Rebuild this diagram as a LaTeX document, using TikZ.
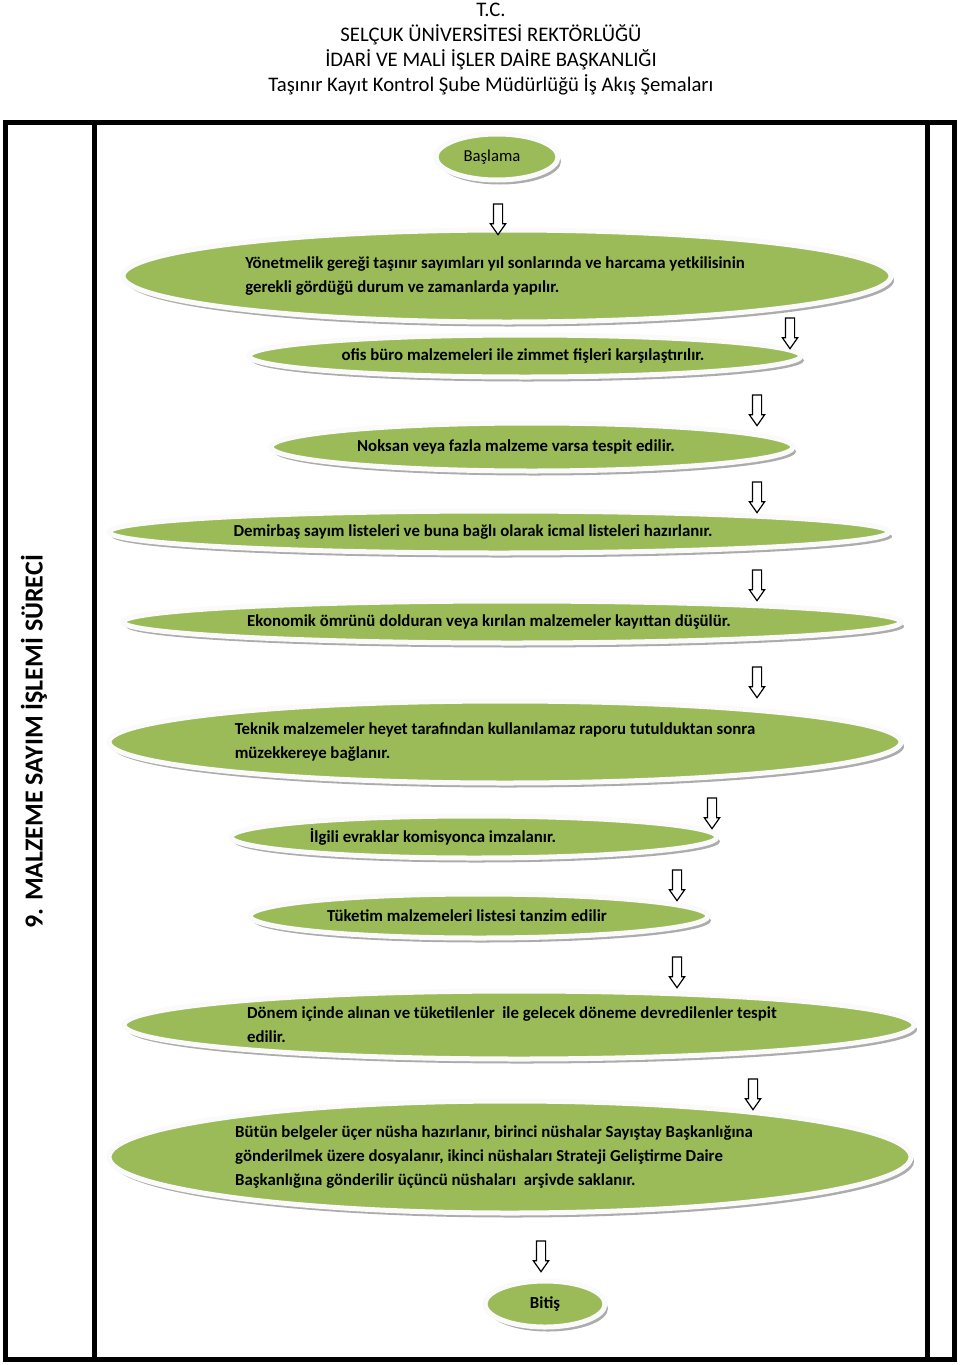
\documentclass[tikz,border=0pt]{standalone}
\usepackage{fontspec}
\setmainfont{Carlito}
\usetikzlibrary{positioning, shapes.geometric, shapes.arrows, shadows}
\definecolor{stepgreen}{HTML}{9BBB59}

\begin{document}
\begin{tikzpicture}[
    x=1pt, y=-1pt,
    frame/.style={line width=5pt},
    stepbox/.style={ellipse, fill=stepgreen, draw=white!96!gray, line width=5pt, inner sep=0pt,
        drop shadow={shadow xshift=3pt, shadow yshift=-4.5pt, fill=gray!65, opacity=1}},
    steptext/.style={font=\bfseries\fontsize{16.8}{24}\selectfont, align=left, inner sep=0pt},
    downarr/.style={single arrow, draw=black, fill=white, line width=1.2pt, rotate=-90,
        inner xsep=11.5pt, inner ysep=4pt, single arrow head extend=3pt, single arrow tip angle=70}
]
\useasboundingbox (0,0) rectangle (960,1365);

% Header
\node[font=\fontsize{20.7}{25}\selectfont, align=center, inner sep=0pt] (title) at (491,49)
    {T.C.\\SELÇUK ÜNİVERSİTESİ REKTÖRLÜĞÜ\\İDARİ VE MALİ İŞLER DAİRE BAŞKANLIĞI\\Taşınır Kayıt Kontrol Şube Müdürlüğü İş Akış Şemaları};

% Frame
\draw[frame] (5,122.5) rectangle (954,1359.5);
\draw[frame] (94.5,122.5) -- (94.5,1359.5);
\draw[frame] (927.5,122.5) -- (927.5,1359.5);

% Side label
\node[rotate=90, font=\bfseries\fontsize{26}{30}\selectfont] (side) at (34,742) {9. MALZEME SAYIM İŞLEMİ SÜRECİ};

% Steps
\node[stepbox, minimum width=122pt, minimum height=46pt] (start) at (497,157) {};
\node[font=\fontsize{16.7}{24}\selectfont, inner sep=0pt] (startt) at ([xshift=-5pt]start.center) {Başlama};

\node[stepbox, minimum width=768pt, minimum height=92pt] (e1) at (507,276) {};
\node[steptext] (e1t) at ([xshift=-12pt]e1.center) {Yönetmelik gereği taşınır sayımları yıl sonlarında ve harcama yetkilisinin\\gerekli gördüğü durum ve zamanlarda yapılır.};

\node[stepbox, minimum width=552pt, minimum height=42pt] (e2) at (525,356) {};
\node[steptext] (e2t) at ([xshift=-2pt]e2.center) {ofis büro malzemeleri ile zimmet fişleri karşılaştırılır.};

\node[stepbox, minimum width=522pt, minimum height=48pt] (e3) at (532,447) {};
\node[steptext] (e3t) at ([xshift=-16pt]e3.center) {Noksan veya fazla malzeme varsa tespit edilir.};

\node[stepbox, minimum width=780pt, minimum height=42pt] (e4) at (499,532) {};
\node[steptext] (e4t) at ([xshift=-26pt]e4.center) {Demirbaş sayım listeleri ve buna bağlı olarak icmal listeleri hazırlanır.};

\node[stepbox, minimum width=778pt, minimum height=42pt] (e5) at (512,622) {};
\node[steptext] (e5t) at ([xshift=-23pt]e5.center) {Ekonomik ömrünü dolduran veya kırılan malzemeler kayıttan düşülür.};

\node[stepbox, minimum width=792pt, minimum height=82pt] (e6) at (505,742) {};
\node[steptext] (e6t) at ([xshift=-10pt]e6.center) {Teknik malzemeler heyet tarafından kullanılamaz raporu tutulduktan sonra\\müzekkereye bağlanır.};

\node[stepbox, minimum width=486pt, minimum height=42pt] (e7) at (474,837) {};
\node[steptext] (e7t) at ([xshift=-41pt]e7.center) {İlgili evraklar komisyonca imzalanır.};

\node[stepbox, minimum width=458pt, minimum height=44pt] (e8) at (479,916) {};
\node[steptext] (e8t) at ([xshift=-12pt]e8.center) {Tüketim malzemeleri listesi tanzim edilir};

\node[stepbox, minimum width=790pt, minimum height=68pt] (e9) at (519,1025) {};
\node[steptext] (e9t) at ([xshift=-7pt]e9.center) {Dönem içinde alınan ve tüketilenler \ ile gelecek döneme devredilenler tespit\\edilir.};

\node[stepbox, minimum width=802pt, minimum height=112pt] (e10) at (510,1157) {};
\node[steptext] (e10t) at ([xshift=-16pt]e10.center) {Bütün belgeler üçer nüsha hazırlanır, birinci nüshalar Sayıştay Başkanlığına\\gönderilmek üzere dosyalanır, ikinci nüshaları Strateji Geliştirme Daire\\Başkanlığına gönderilir üçüncü nüshaları \ arşivde saklanır.};

\node[stepbox, minimum width=120pt, minimum height=46pt] (end) at (545,1304) {};
\node[steptext] (endt) at (end.center) {Bitiş};

% Arrows
\node[downarr] (a1) at (498,216) {};
\node[downarr] (a2) at (790,330) {};
\node[downarr] (a3) at (757,407) {};
\node[downarr] (a4) at (757,494) {};
\node[downarr] (a5) at (757,582) {};
\node[downarr] (a6) at (757,679) {};
\node[downarr] (a7) at (712,810) {};
\node[downarr] (a8) at (677,882) {};
\node[downarr] (a9) at (677,969) {};
\node[downarr] (a10) at (753,1091) {};
\node[downarr] (a11) at (541,1253) {};

\end{tikzpicture}
\end{document}
